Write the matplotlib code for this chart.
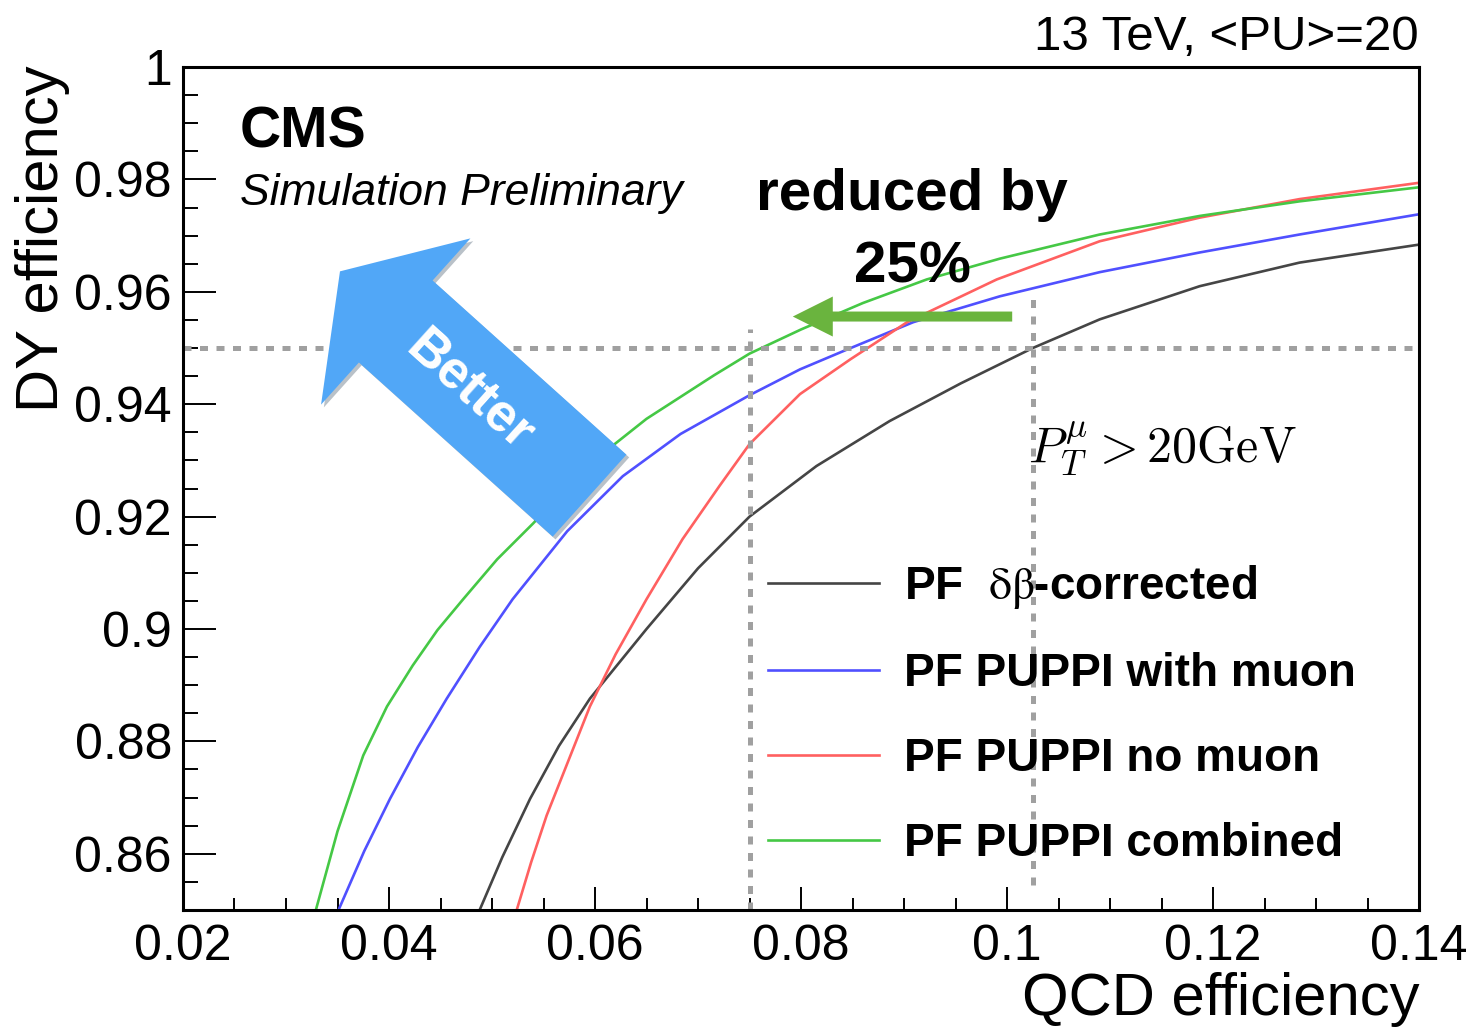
import numpy as np
import matplotlib.pyplot as plt
from matplotlib.ticker import MultipleLocator, FormatStrFormatter
from matplotlib.font_manager import FontProperties
import matplotlib.patheffects as pe

plt.rcParams['font.family'] = ['Liberation Sans', 'DejaVu Sans']

# ROC curves: QCD efficiency (x) vs DY efficiency (y)
qcd_dbeta = [0.0488, 0.0510, 0.0537, 0.0565, 0.0595, 0.0650, 0.0700, 0.0750, 0.0815, 0.0886,
             0.0955, 0.1025, 0.1090, 0.1187, 0.1284, 0.1400]
dy_dbeta = [0.850, 0.8594, 0.8698, 0.8792, 0.8876, 0.9000, 0.9108, 0.9200, 0.9290, 0.9370,
            0.9437, 0.9500, 0.9551, 0.9610, 0.9652, 0.9684]

qcd_with_muon = [0.0351, 0.0376, 0.0401, 0.0428, 0.0456, 0.0488, 0.0520, 0.0573, 0.0627, 0.0683,
                 0.0750, 0.0799, 0.0843, 0.0909, 0.0993, 0.1090, 0.1187, 0.1284, 0.1400]
dy_with_muon = [0.850, 0.8605, 0.8698, 0.8790, 0.8876, 0.8968, 0.9053, 0.9174, 0.9272, 0.9347,
                0.9416, 0.9462, 0.9496, 0.9546, 0.9592, 0.9635, 0.9670, 0.9702, 0.9738]

qcd_no_muon = [0.0524, 0.0538, 0.0553, 0.0595, 0.0620, 0.0650, 0.0685, 0.0721, 0.0750, 0.0799,
               0.0848, 0.0903, 0.0990, 0.1090, 0.1187, 0.1284, 0.1400]
dy_no_muon = [0.850, 0.8585, 0.8668, 0.8862, 0.8955, 0.9053, 0.9160, 0.9255, 0.9329, 0.9418,
              0.9480, 0.9546, 0.9622, 0.9690, 0.9732, 0.9765, 0.9794]

qcd_combined = [0.0329, 0.0350, 0.0375, 0.0398, 0.0423, 0.0447, 0.0472, 0.0505, 0.0540, 0.0578,
                0.0617, 0.0650, 0.0683, 0.0716, 0.0750, 0.0800, 0.0860, 0.0922, 0.0993, 0.1090,
                0.1187, 0.1284, 0.1400]
dy_combined = [0.850, 0.8640, 0.8775, 0.8862, 0.8935, 0.8998, 0.9053, 0.9124, 0.9188, 0.9262,
               0.9326, 0.9374, 0.9413, 0.9452, 0.9490, 0.9533, 0.9580, 0.9622, 0.9659, 0.9702,
               0.9735, 0.9761, 0.9786]

labels = [r'PF  $\mathrm{\delta\beta}$-corrected', 'PF PUPPI with muon', 'PF PUPPI no muon', 'PF PUPPI combined']
colors = ['#454545', '#5050ff', '#ff6060', '#45c845']

# working points
dy_ref = 0.95
qcd_wp_puppi = 0.075
qcd_wp_pf = 0.1025

fig = plt.figure(figsize=(14.71, 10.28), dpi=100)
ax = fig.add_axes([0.1244, 0.1148, 0.8403, 0.8200])

curves = [(qcd_dbeta, dy_dbeta), (qcd_with_muon, dy_with_muon),
          (qcd_no_muon, dy_no_muon), (qcd_combined, dy_combined)]
for (x, y), lab, c in zip(curves, labels, colors):
    ax.plot(x, y, color=c, lw=1.9, label=lab, solid_joinstyle='round')

dash = dict(color='#a0a0a0', lw=3.6, ls=(0, (1.6, 1.7)), dash_capstyle='butt')
ax.plot([0.02, 0.14], [dy_ref, dy_ref], **dash)
ax.plot([qcd_wp_puppi, qcd_wp_puppi], [0.85, 0.9533], **dash)
ax.plot([qcd_wp_pf, qcd_wp_pf], [0.8545, 0.959], **dash)

ax.set_xlim(0.02, 0.14)
ax.set_ylim(0.85, 1.0)

ax.xaxis.set_major_locator(MultipleLocator(0.02))
ax.xaxis.set_minor_locator(MultipleLocator(0.005))
ax.yaxis.set_major_locator(MultipleLocator(0.02))
ax.yaxis.set_minor_locator(MultipleLocator(0.005))
ax.xaxis.set_major_formatter(FormatStrFormatter('%g'))
ax.yaxis.set_major_formatter(FormatStrFormatter('%g'))
ax.tick_params(axis='x', which='major', direction='in', length=16.5, width=1.4, labelsize=36, pad=10)
ax.tick_params(axis='x', which='minor', direction='in', length=8.5, width=1.4)
ax.tick_params(axis='y', which='major', direction='in', length=24, width=1.4, labelsize=36, pad=8)
ax.tick_params(axis='y', which='minor', direction='in', length=11, width=1.4)
for s in ax.spines.values():
    s.set_linewidth(2.2)

ax.text(1.0, -0.1246, 'QCD efficiency', transform=ax.transAxes, ha='right', va='baseline', fontsize=43)
ax.text(-0.1137, 1.0024, 'DY efficiency', transform=ax.transAxes, rotation=90,
        ha='center', va='top', fontsize=43)

ax.text(0.0461, 0.905, 'CMS', transform=ax.transAxes, fontsize=41, fontweight='bold', va='baseline')
ax.text(0.0461, 0.8363, 'Simulation Preliminary', transform=ax.transAxes, fontsize=32,
        style='italic', va='baseline')
ax.text(1.0, 1.0202, '13 TeV, <PU>=20', transform=ax.transAxes, fontsize=35.5, ha='right', va='baseline')

ax.text(0.5898, 0.8304, 'reduced by', transform=ax.transAxes, fontsize=42, fontweight='bold',
        ha='center', va='baseline')
ax.text(0.5898, 0.7438, '25%', transform=ax.transAxes, fontsize=42, fontweight='bold',
        ha='center', va='baseline')

ax.text(0.6837, 0.5314, r'$P_T^{\mu} > 20\mathrm{GeV}$', transform=ax.transAxes, fontsize=36,
        va='baseline', math_fontfamily='cm')

# green arrow: shift of the working point
ax.annotate('', xy=(0.0792, 0.9556), xytext=(0.1005, 0.9556),
            arrowprops=dict(arrowstyle='simple,head_length=1,head_width=1,tail_width=0.25',
                            mutation_scale=28.8, color='#6ab43e', lw=0, shrinkA=0, shrinkB=0))

# big "Better" arrow
ax.annotate('', xy=(0.03524, 0.96364), xytext=(0.05947, 0.92373),
            arrowprops=dict(arrowstyle='simple,head_length=1,head_width=2.98,tail_width=1.47',
                            mutation_scale=54, color='#51a7f7', lw=0, shrinkA=0, shrinkB=0,
                            path_effects=[pe.SimplePatchShadow(offset=(2, -2), alpha=0.3), pe.Normal()]))
ax.text(0.04786, 0.94231, 'Better', fontsize=38, fontweight='bold', color='white',
        rotation=-42, rotation_mode='anchor', ha='center', va='center')

leg_font = FontProperties(family='Liberation Sans', weight='bold', size=33, math_fontfamily='stix')
ax.legend(loc='upper left', bbox_to_anchor=(0.4733, 0.412), frameon=False, prop=leg_font,
          handlelength=2.43, handletextpad=0.54, labelspacing=0.90, borderpad=0, borderaxespad=0)

fig.savefig('out.png', dpi=100)
